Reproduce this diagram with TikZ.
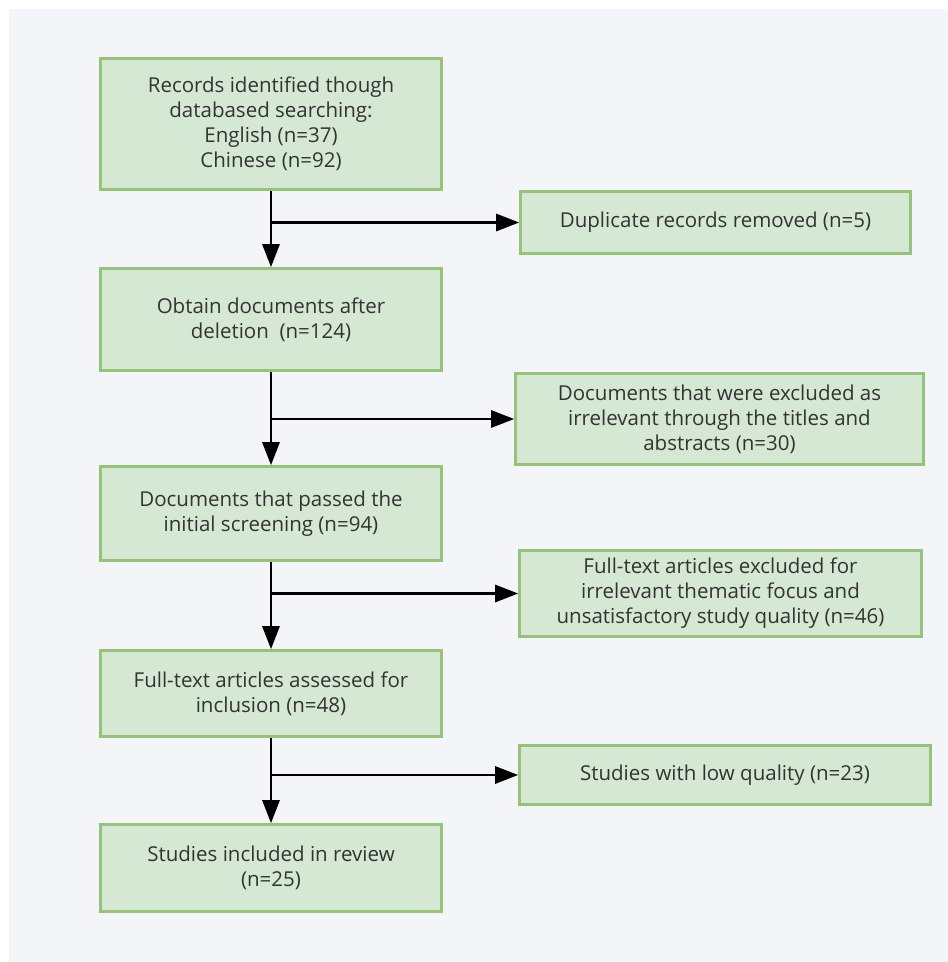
\documentclass[tikz,border=0pt]{standalone}
\usepackage{fontspec}
\setmainfont{Open Sans}
\usetikzlibrary{arrows.meta}
\definecolor{bgc}{HTML}{F4F5F9}
\definecolor{boxfill}{HTML}{D5E8D4}
\definecolor{boxline}{HTML}{97C27C}
\definecolor{txt}{HTML}{333333}
\tikzset{
  flowbox/.style={draw=boxline, fill=boxfill, line width=2.6pt, rectangle,
    inner sep=0pt, align=center, text=txt,
    font=\fontsize{20.5}{25}\selectfont},
  flowarrow/.style={draw=black, line width=2.8pt,
    -{Triangle[length=23pt,width=17pt]}},
}
\begin{document}
\begin{tikzpicture}[x=1pt,y=-1pt]
\useasboundingbox (0,0) rectangle (948,962);
\fill[white] (0,0) rectangle (948,962);
\fill[bgc] (9,9) rectangle (948,962);

\node[flowbox, minimum width=341pt, minimum height=131pt] (b1) at (271,124)
  {Records identified though\\databased searching:\\English (n=37)\\Chinese (n=92)};
\node[flowbox, minimum width=390pt, minimum height=62pt] (d1) at (715.5,222.5)
  {Duplicate records removed (n=5)};
\node[flowbox, minimum width=341pt, minimum height=102pt] (b2) at (271,319.5)
  {Obtain documents after\\deletion\ \ (n=124)};
\node[flowbox, minimum width=408pt, minimum height=91pt] (d2) at (719.5,419)
  {Documents that were excluded as\\irrelevant through the titles and\\abstracts (n=30)};
\node[flowbox, minimum width=341pt, minimum height=94pt] (b3) at (271,513.5)
  {Documents that passed the\\initial screening (n=94)};
\node[flowbox, minimum width=402pt, minimum height=86pt] (d3) at (720.5,593.5)
  {Full-text articles excluded for\\irrelevant thematic focus and\\unsatisfactory study quality (n=46)};
\node[flowbox, minimum width=341pt, minimum height=86pt] (b4) at (271,693.5)
  {Full-text articles assessed for\\inclusion (n=48)};
\node[flowbox, minimum width=411pt, minimum height=59pt] (d4) at (725,775)
  {Studies with low quality (n=23)};
\node[flowbox, minimum width=341pt, minimum height=87pt] (b5) at (271,868)
  {Studies included in review\\(n=25)};

\draw[flowarrow] (b1.south) -- (b2.north);
\draw[flowarrow] (b2.south) -- (b3.north);
\draw[flowarrow] (b3.south) -- (b4.north);
\draw[flowarrow] (b4.south) -- (b5.north);

\draw[flowarrow] (b1.south |- d1.west) -- (d1.west);
\draw[flowarrow] (b2.south |- d2.west) -- (d2.west);
\draw[flowarrow] (b3.south |- d3.west) -- (d3.west);
\draw[flowarrow] (b4.south |- d4.west) -- (d4.west);
\end{tikzpicture}
\end{document}
